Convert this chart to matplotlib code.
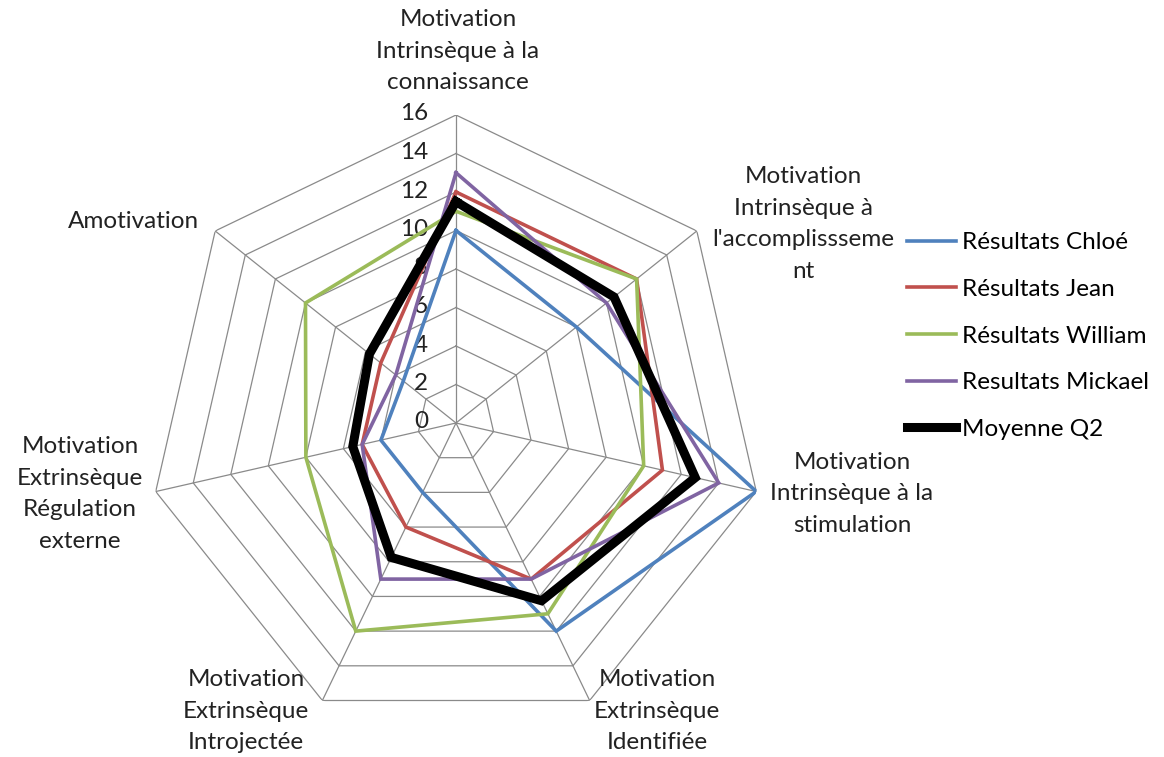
import numpy as np
import matplotlib
matplotlib.use('Agg')
import matplotlib.pyplot as plt

plt.rcParams['font.family'] = ['Lato', 'DejaVu Sans']

# Données
categories = [
    "Motivation\nIntrinsèque à la\nconnaissance",
    "Motivation\nIntrinsèque à\nl'accomplissseme\nnt",
    "Motivation\nIntrinsèque à la\nstimulation",
    "Motivation\nExtrinsèque\nIdentifiée",
    "Motivation\nExtrinsèque\nIntrojectée",
    "Motivation\nExtrinsèque\nRégulation\nexterne",
    "Amotivation",
]
chloe = [10, 8, 16, 12, 4, 4, 3.5]
jean = [12, 12, 11, 9, 6, 5, 5]
william = [11, 12, 10, 11, 12, 8, 10]
mickael = [13, 10, 14, 9, 9, 5, 4]
moyenne = [11.5, 10.5, 12.75, 10.25, 7.75, 5.5, 5.75]
ticks = [0, 2, 4, 6, 8, 10, 12, 14, 16]

series = [
    ("Résultats Chloé", chloe, '#4F81BD', 2.6),
    ("Résultats Jean", jean, '#C0504D', 2.6),
    ("Résultats William", william, '#9BBB59', 2.6),
    ("Resultats Mickael", mickael, '#8064A2', 2.6),
    ("Moyenne Q2", moyenne, '#000000', 6.5),
]

W, H = 1164, 757
fig = plt.figure(figsize=(W / 100, H / 100), dpi=100)
# centre ~ (456, 423), rayon ~ 308 px
ax = fig.add_axes([148 / W, 1 - 731 / H, 616 / W, 616 / H], projection='polar')
ax.set_theta_offset(np.pi / 2)
ax.set_theta_direction(-1)
ax.set_ylim(0, 16)
ax.grid(False)
ax.spines['polar'].set_visible(False)
ax.set_xticks([])
ax.set_yticks([])
ax.patch.set_alpha(0)

n = len(categories)
angles = np.linspace(0, 2 * np.pi, n, endpoint=False)
closed = np.append(angles, angles[0])

# grille heptagonale
for t in ticks[1:]:
    ax.plot(closed, [t] * (n + 1), color='#8a8a8a', lw=0.9, zorder=1)
for a in angles:
    ax.plot([a, a], [0, 16], color='#8a8a8a', lw=0.9, zorder=1)

# étiquettes de l'échelle
for t in ticks:
    ax.annotate(str(t), xy=(0, t), xytext=(-28, 1), textcoords='offset pixels',
                ha='right', va='center', fontsize=17.5, color='#222222')

for label, vals, col, lw in series:
    ax.plot(closed, vals + [vals[0]], color=col, lw=lw, label=label,
            solid_joinstyle='miter', zorder=3)

# étiquettes des axes (positions en pixels)
label_pos = [(458, 51), (803, 224), (852, 494), (657, 711),
             (246, 711), (80, 494), (133, 222)]
for txt, (x, y) in zip(categories, label_pos):
    fig.text(x / W, 1 - y / H, txt, ha='center', va='center', fontsize=17.5,
             linespacing=1.62, color='#222222')

fig.legend(loc='center left', bbox_to_anchor=(907 / W, 1 - 336 / H),
           frameon=False, fontsize=17.5, handlelength=2.0, handletextpad=0.25,
           labelspacing=1.05, borderaxespad=0, borderpad=0)

fig.savefig('out.png', dpi=100)
